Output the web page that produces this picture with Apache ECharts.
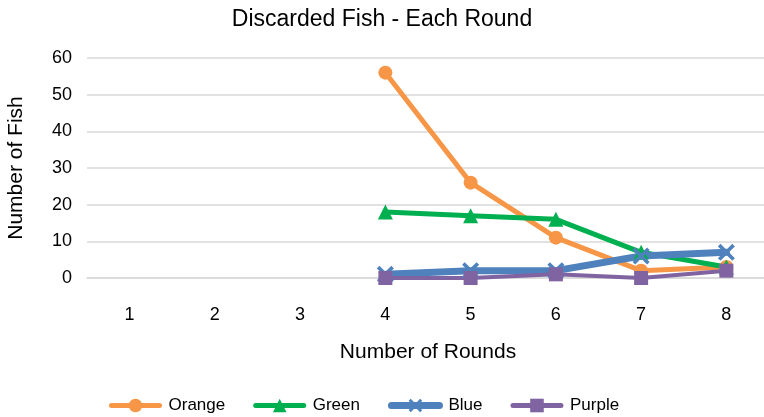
<!DOCTYPE html>
<html><head><meta charset="utf-8">
<script src="https://cdn.jsdelivr.net/npm/echarts@6/dist/echarts.min.js"></script>
<style>html,body{margin:0;padding:0;background:#fff}#c{width:764px;height:417px}</style>
</head><body><div id="c"></div>
<script>
const categories = ['1','2','3','4','5','6','7','8'];
const orange = [null, null, null, 56, 26, 11, 2, 3];
const green  = [null, null, null, 18, 17, 16, 7, 3];
const blue   = [null, null, null, 1, 2, 2, 6, 7];
const purple = [null, null, null, 0, 0, 1, 0, 2];
const yTicks = [0, 60, 10];

const FONT = 'Liberation Sans';
const crossPath = 'path://M0,3 L3,0 L10,7 L17,0 L20,3 L13,10 L20,17 L17,20 L10,13 L3,20 L0,17 L7,10 Z';

const chart = echarts.init(document.getElementById('c'));
function s(name, data, color, symbol, size, width) {
  return {
    name, type: 'line', data, symbol, symbolSize: size, showAllSymbol: true,
    itemStyle: { color }, lineStyle: { color, width, cap: 'round', join: 'round' }, connectNulls: false,
    emphasis: { disabled: true }, animation: false
  };
}
chart.setOption({
  animation: false,
  title: {
    text: 'Discarded Fish - Each Round', left: 'center', top: 3,
    textStyle: { fontFamily: FONT, fontSize: 23, fontWeight: 'normal', color: '#000' }
  },
  grid: { left: 87, right: -5, top: 58, bottom: 139, containLabel: false, outerBoundsMode: 'none' },
  legend: {
    bottom: 3, left: 109, padding: 0, itemWidth: 48, itemHeight: 17, itemGap: 28,
    textStyle: { fontFamily: FONT, fontSize: 17, color: '#000', padding: [0, 0, 0, 4] },
    lineStyle: { width: 5, cap: 'round' },
    data: [
      { name: 'Orange' },
      { name: 'Green' },
      { name: 'Blue', lineStyle: { width: 7, cap: 'round' } },
      { name: 'Purple' }
    ]
  },
  xAxis: {
    type: 'category', data: categories, boundaryGap: true,
    name: 'Number of Rounds', nameLocation: 'middle', nameGap: 64,
    nameTextStyle: { fontFamily: FONT, fontSize: 21, color: '#000' },
    axisLine: { lineStyle: { color: '#d9d9d9', width: 1.5 } },
    axisTick: { show: false },
    axisLabel: { fontFamily: FONT, fontSize: 18, color: '#000', margin: 28 }
  },
  yAxis: {
    type: 'value', min: yTicks[0], max: yTicks[1], interval: yTicks[2],
    name: 'Number of Fish', nameLocation: 'middle', nameGap: 60, nameRotate: 90,
    nameTextStyle: { fontFamily: FONT, fontSize: 21, color: '#000' },
    axisLine: { show: false }, axisTick: { show: false },
    splitLine: { lineStyle: { color: '#d9d9d9', width: 1.5 } },
    axisLabel: { fontFamily: FONT, fontSize: 18, color: '#000', margin: 15 }
  },
  series: [
    s('Orange', orange, '#F79646', 'circle', 14, 5),
    s('Green', green, '#00B050', 'triangle', 15, 5),
    s('Blue', blue, '#4F81BD', crossPath, 17, 7),
    s('Purple', purple, '#8064A2', 'rect', 14, 4)
  ]
});
</script></body></html>
